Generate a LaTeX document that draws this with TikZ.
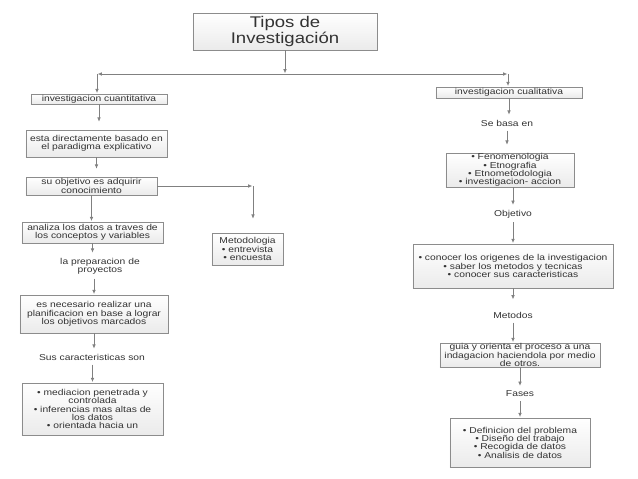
\documentclass[tikz,border=0pt]{standalone}
\usepackage{fontspec}
\setmainfont{Liberation Sans}[FakeStretch=1.2]
\usetikzlibrary{arrows.meta,shadows}
\begin{document}
\begin{tikzpicture}[x=0.025cm,y=-0.025cm,
    caja/.style={draw=black!45, top color=white, bottom color=black!8, inner sep=0pt, align=center,
        text=black!80, font=\fontsize{6.1}{5.9}\selectfont,
        drop shadow={opacity=0.15,shadow xshift=0.6pt,shadow yshift=-0.6pt}},
    etiqueta/.style={inner xsep=1pt, inner ysep=3pt, align=center, text=black!80, font=\fontsize{6.1}{5.9}\selectfont},
    flecha/.style={draw=black!50, line width=0.5pt, shorten >=0.5pt, -{Latex[length=3pt,width=2.6pt]}},
    corta/.style={shorten >=0.2cm}]
    \useasboundingbox (0,0) rectangle (638,479);

    \node[caja, minimum width=4.6cm, minimum height=0.925cm, font=\fontsize{11}{11.3}\selectfont] (titulo) at (285,31.5) {Tipos de\\Investigación};
    \coordinate (union) at (285,74);
    \coordinate (izq) at (97,74);
    \coordinate (der) at (508,74);

    \node[caja, minimum width=3.4cm, minimum height=0.25cm] (cuanti) at (99,99) {investigacion cuantitativa};
    \node[caja, minimum width=3.525cm, minimum height=0.675cm] (esta) at (96.5,143.5) {esta directamente basado en\\el paradigma explicativo};
    \node[caja, minimum width=3.275cm, minimum height=0.45cm] (obj) at (91.5,186) {su objetivo es adquirir\\conocimiento};
    \node[caja, minimum width=3.525cm, minimum height=0.525cm] (analiza) at (92.5,232.5) {analiza los datos a traves de\\los conceptos y variables};
    \node[etiqueta] (prep) at (100,266) {la preparacion de\\proyectos};
    \node[caja, minimum width=3.7cm, minimum height=0.95cm] (necesario) at (94,314) {es necesario realizar una\\planificacion en base a lograr\\los objetivos marcados};
    \node[etiqueta] (sus) at (92,357) {Sus caracteristicas son};
    \node[caja, minimum width=3.525cm, minimum height=1.3cm] (carac) at (92.5,409) {• mediacion penetrada y\\controlada\\• inferencias mas altas de\\los datos\\• orientada hacia un};
    \coordinate (esquina) at (253,186);
    \node[caja, minimum width=1.775cm, minimum height=0.8cm] (meto) at (247.5,249) {Metodologia\\• entrevista\\• encuesta};

    \node[caja, minimum width=3.65cm, minimum height=0.275cm] (cualit) at (509,92.5) {investigacion cualitativa};
    \node[etiqueta] (basa) at (507,123) {Se basa en};
    \node[caja, minimum width=3.2cm, minimum height=0.85cm] (fenom) at (510,170) {• Fenomenologia\\• Etnografia\\• Etnometodologia\\• investigacion- accion};
    \node[etiqueta] (objetivo) at (513,214) {Objetivo};
    \node[caja, minimum width=5cm, minimum height=1.1cm] (conocer) at (513,266) {• conocer los origenes de la investigacion\\• saber los metodos y tecnicas\\• conocer sus caracteristicas};
    \node[etiqueta] (metodos) at (513,315) {Metodos};
    \node[caja, minimum width=4cm, minimum height=0.6cm] (guia) at (520,355) {guia y orienta el proceso a una\\indagacion haciendola por medio\\de otros.};
    \node[etiqueta] (fases) at (520,394) {Fases};
    \node[caja, minimum width=3.5cm, minimum height=1.225cm] (fasesbox) at (520,442.5) {• Definicion del problema\\• Diseño del trabajo\\• Recogida de datos\\• Analisis de datos};

    \draw[flecha] (titulo) -- (union);
    \draw[flecha] (union) -- (izq);
    \draw[flecha] (union) -- (der);
    \draw[flecha] (izq) -- (izq |- cuanti.north);
    \draw[flecha] (der) -- (der |- cualit.north);

    \draw[flecha, corta] (cuanti) -- (cuanti |- esta.north);
    \draw[flecha, corta] (esta) -- (esta |- obj.north);
    \draw[flecha] (obj) -- (obj |- analiza.north);
    \draw[flecha] (analiza) -- (analiza |- prep.north);
    \draw[flecha] (necesario |- prep.south) -- (necesario.north);
    \draw[flecha] (necesario) -- (necesario |- sus.north);
    \draw[flecha] (carac |- sus.south) -- (carac.north);
    \draw[flecha] (obj) -- (esquina);
    \draw[flecha, shorten >=0.35cm] (esquina) -- (esquina |- meto.north);

    \draw[flecha] (cualit) -- (cualit |- basa.north);
    \draw[flecha, corta] (basa) -- (basa |- fenom.north);
    \draw[flecha] (objetivo |- fenom.south) -- (objetivo.north);
    \draw[flecha] (objetivo) -- (objetivo |- conocer.north);
    \draw[flecha, corta] (conocer) -- (conocer |- metodos.north);
    \draw[flecha] (metodos) -- (metodos |- guia.north);
    \draw[flecha] (guia) -- (guia |- fases.north);
    \draw[flecha] (fases) -- (fases |- fasesbox.north);
\end{tikzpicture}
\end{document}
